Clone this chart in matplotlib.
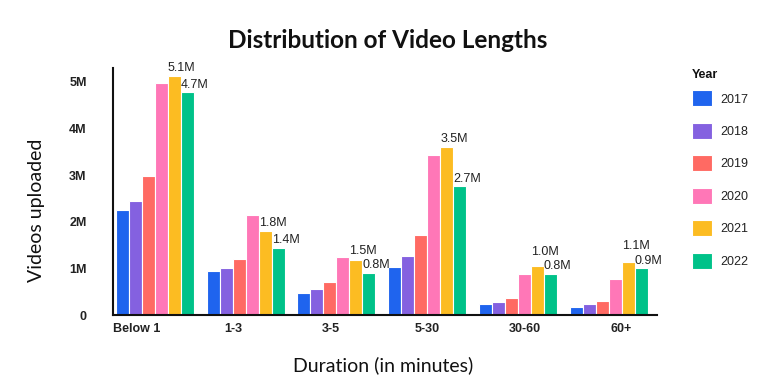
import matplotlib

matplotlib.use("Agg")
import matplotlib.pyplot as plt
import numpy as np

# Chart data (millions of videos)
durations = ["Below 1", "1-3", "3-5", "5-30", "30-60", "60+"]
years = ["2017", "2018", "2019", "2020", "2021", "2022"]
v2017 = [2.25, 0.94, 0.47, 1.02, 0.23, 0.18]
v2018 = [2.45, 1.01, 0.55, 1.26, 0.28, 0.23]
v2019 = [2.98, 1.20, 0.71, 1.71, 0.36, 0.31]
v2020 = [4.96, 2.14, 1.25, 3.42, 0.88, 0.77]
v2021 = [5.11, 1.80, 1.19, 3.59, 1.06, 1.13]
v2022 = [4.77, 1.44, 0.91, 2.76, 0.88, 1.00]
labels2021 = ["5.1M", "1.8M", "1.5M", "3.5M", "1.0M", "1.1M"]
labels2022 = ["4.7M", "1.4M", "0.8M", "2.7M", "0.8M", "0.9M"]
yticks = [0, 1, 2, 3, 4, 5]
ytick_labels = ["0", "1M", "2M", "3M", "4M", "5M"]

series = [v2017, v2018, v2019, v2020, v2021, v2022]
colors = ["#1F64EE", "#8461E0", "#FF6A63", "#FF77B7", "#FCBC22", "#00C289"]

TITLE_FONT = ["Lato", "DejaVu Sans"]
TICK_FONT = ["Liberation Sans", "DejaVu Sans"]
YMAX = 5.29

fig = plt.figure(figsize=(7.8, 3.89), dpi=100)
ax = fig.add_axes([0.145, 0.19, 0.697, 0.635])

x = np.arange(len(durations))
width = 0.143
bars_by_year = []
for i, (vals, col, yr) in enumerate(zip(series, colors, years)):
    offs = (i - 2.5) * width
    bars = ax.bar(x + offs, vals, width, color=col, edgecolor="white",
                  linewidth=0.8, label=yr, zorder=2)
    bars_by_year.append(bars)

# value labels on 2021 / 2022 bars, left-aligned at the bar edge;
# the 2021 label is pushed up when it would collide with the 2022 one
px_per_unit = ax.get_position().height * fig.get_figheight() * fig.dpi / YMAX
pt = 72 / fig.dpi
for b21, b22, t21, t22 in zip(bars_by_year[4], bars_by_year[5],
                              labels2021, labels2022):
    off22 = 4.5
    ax.annotate(t22, (b22.get_x(), b22.get_height()), xytext=(0, off22 * pt),
                textcoords="offset points", ha="left", va="baseline",
                fontsize=9, family=TICK_FONT, color="#222222")
    gap = (b22.get_height() - b21.get_height()) * px_per_unit
    off21 = max(5.5, gap + off22 + 14.5)
    ax.annotate(t21, (b21.get_x(), b21.get_height()), xytext=(0, off21 * pt),
                textcoords="offset points", ha="left", va="baseline",
                fontsize=9, family=TICK_FONT, color="#222222")

ax.set_xlim(-0.46, 5.53)
ax.set_ylim(0, YMAX)
ax.set_yticks(yticks)
ax.set_yticklabels(ytick_labels, family=TICK_FONT, fontsize=9, weight="bold",
                   color="#222222")
ax.set_xticks(np.linspace(-0.2, 5.14, len(durations)))
ax.set_xticklabels(durations, family=TICK_FONT, fontsize=9, weight="bold",
                   color="#222222")
ax.tick_params(axis="y", length=0, pad=19)
ax.tick_params(axis="x", length=0, pad=6)

for s in ("top", "right"):
    ax.spines[s].set_visible(False)
for s in ("left", "bottom"):
    ax.spines[s].set_linewidth(1.5)
    ax.spines[s].set_color("#111111")

ax.set_ylabel("Videos uploaded", family=TITLE_FONT, fontsize=14, color="#111111")
ax.yaxis.set_label_coords(-0.126, 0.423)
ax.set_xlabel("Duration (in minutes)", family=TITLE_FONT, fontsize=14,
              color="#111111")
ax.xaxis.set_label_coords(0.496, -0.165)

fig.text(388 / 780, 1 - 41 / 389, "Distribution of Video Lengths",
         ha="center", va="center", family=TITLE_FONT, fontsize=17.5,
         weight="bold", color="#111111")

fig.text(692 / 780, 1 - 75 / 389, "Year", ha="left", va="center",
         family=TICK_FONT, fontsize=9, weight="bold", color="#111111")
leg = ax.legend(loc="upper left", bbox_to_anchor=(1.053, 0.935),
                frameon=False, prop={"family": TICK_FONT, "size": 9},
                handlelength=1.6, handleheight=1.6, labelspacing=1.31,
                handletextpad=0.7, borderpad=0)
for t in leg.get_texts():
    t.set_color("#222222")

fig.savefig("out.png", dpi=100)
